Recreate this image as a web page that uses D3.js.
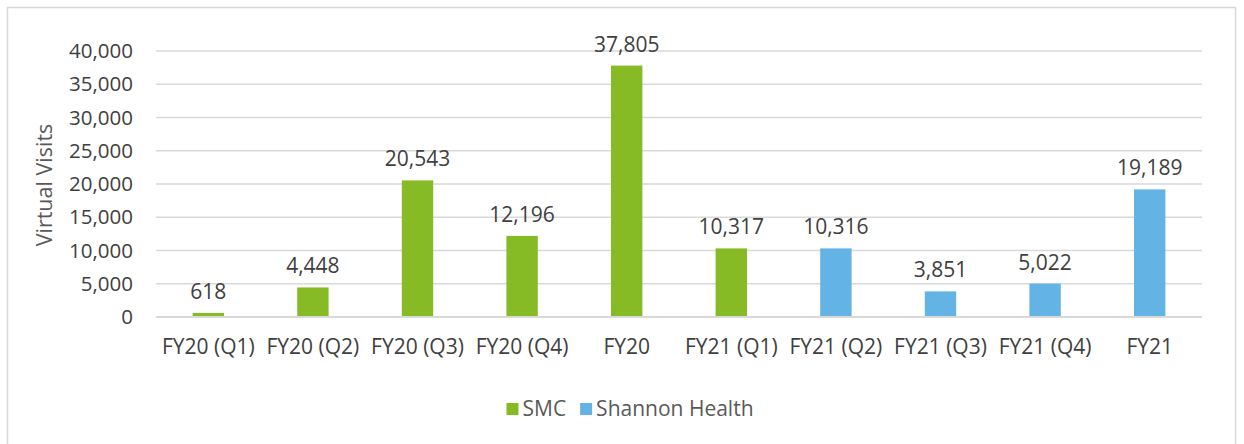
<!DOCTYPE html>
<html>
<head>
<meta charset="utf-8">
<script src="https://cdn.jsdelivr.net/npm/d3@7"></script>
<style>
  body { margin: 0; background: #fff; }
  svg { display: block; font-family: "Open Sans", sans-serif; }
</style>
</head>
<body>
<div id="chart"></div>
<script>
const categories = ['FY20 (Q1)', 'FY20 (Q2)', 'FY20 (Q3)', 'FY20 (Q4)', 'FY20',
                    'FY21 (Q1)', 'FY21 (Q2)', 'FY21 (Q3)', 'FY21 (Q4)', 'FY21'];
const smcValues = [618, 4448, 20543, 12196, 37805, 10317, null, null, null, null];
const shannonValues = [null, null, null, null, null, null, 10316, 3851, 5022, 19189];
const seriesNames = ['SMC', 'Shannon Health'];
const seriesColors = ['#86bb26', '#63b4e4'];
const yTicks = [0, 5000, 10000, 15000, 20000, 25000, 30000, 35000, 40000];

const width = 1244;
const height = 444;
const margin = { top: 51, right: 42, bottom: 127, left: 156 };

const svg = d3.select('#chart')
    .append('svg')
    .attr('width', width)
    .attr('height', height);

// outer chart border
svg.append('rect')
    .attr('x', 7.5).attr('y', 7.5)
    .attr('width', 1228).attr('height', 450)
    .attr('fill', 'none')
    .attr('stroke', '#d9d9d9')
    .attr('stroke-width', 1.5);

const xScale = d3.scaleBand()
    .domain(categories)
    .range([margin.left, width - margin.right])
    .padding(0);

const yScale = d3.scaleLinear()
    .domain([0, 40000])
    .range([height - margin.bottom, margin.top]);

const fmt = d3.format(',');

// gridlines
svg.append('g')
    .attr('class', 'gridlines')
    .selectAll('line')
    .data(yTicks)
    .join('line')
    .attr('x1', margin.left)
    .attr('x2', width - margin.right)
    .attr('y1', (d) => yScale(d))
    .attr('y2', (d) => yScale(d))
    .attr('stroke', '#d9d9d9')
    .attr('stroke-width', (d) => d === 0 ? 2.2 : 1.4);

// y axis labels
const yAxis = d3.axisLeft(yScale)
    .tickValues(yTicks)
    .tickFormat(fmt)
    .tickSize(0)
    .tickPadding(0);

svg.append('g')
    .attr('transform', `translate(${margin.left - 23}, 0)`)
    .call(yAxis)
    .call((g) => g.select('.domain').remove())
    .selectAll('text')
    .attr('font-size', 20.5)
    .attr('font-family', '"Open Sans", sans-serif')
    .attr('fill', '#404040');

// x axis labels
const xAxis = d3.axisBottom(xScale).tickSize(0).tickPadding(0);
svg.append('g')
    .attr('transform', `translate(0, ${height - margin.bottom + 22})`)
    .call(xAxis)
    .call((g) => g.select('.domain').remove())
    .selectAll('text')
    .attr('font-size', 21)
    .attr('font-family', '"Open Sans", sans-serif')
    .attr('fill', '#404040');

// y title
svg.append('text')
    .attr('transform', `translate(52, ${yScale(20000) + 1}) rotate(-90)`)
    .attr('text-anchor', 'middle')
    .attr('font-size', 21.5)
    .attr('fill', '#595959')
    .text('Virtual Visits');

const barWidth = xScale.bandwidth() * 0.3;

const series = [smcValues, shannonValues].map((vals, i) => ({
    name: seriesNames[i],
    color: seriesColors[i],
    points: categories.map((c, j) => ({ category: c, value: vals[j] })).filter((d) => d.value != null)
}));

series.forEach((s) => {
    const g = svg.append('g').attr('class', 'bars');
    g.selectAll('rect')
        .data(s.points)
        .join('rect')
        .attr('x', (d) => xScale(d.category) + xScale.bandwidth() / 2 - barWidth / 2)
        .attr('y', (d) => yScale(d.value))
        .attr('width', barWidth)
        .attr('height', (d) => yScale(0) - yScale(d.value) - 1)
        .attr('fill', s.color);

    g.selectAll('text')
        .data(s.points)
        .join('text')
        .attr('x', (d) => xScale(d.category) + xScale.bandwidth() / 2)
        .attr('y', (d) => yScale(d.value) - 14)
        .attr('text-anchor', 'middle')
        .attr('font-size', 21)
        .attr('fill', '#404040')
        .text((d) => fmt(d.value));
});

// legend
const legend = svg.append('g').attr('class', 'legend');
let lx = 0;
series.forEach((s) => {
    const item = legend.append('g').attr('transform', `translate(${lx}, 0)`);
    item.append('rect')
        .attr('x', 0).attr('y', -6)
        .attr('width', 12).attr('height', 12)
        .attr('fill', s.color);
    const t = item.append('text')
        .attr('x', 16)
        .attr('dy', '0.35em')
        .attr('font-size', 21)
        .attr('fill', '#595959')
        .text(s.name);
    lx += 16 + t.node().getComputedTextLength() + 14;
});
const legendWidth = lx - 14;
legend.attr('transform', `translate(${630 - legendWidth / 2}, 409)`);
</script>
</body>
</html>
